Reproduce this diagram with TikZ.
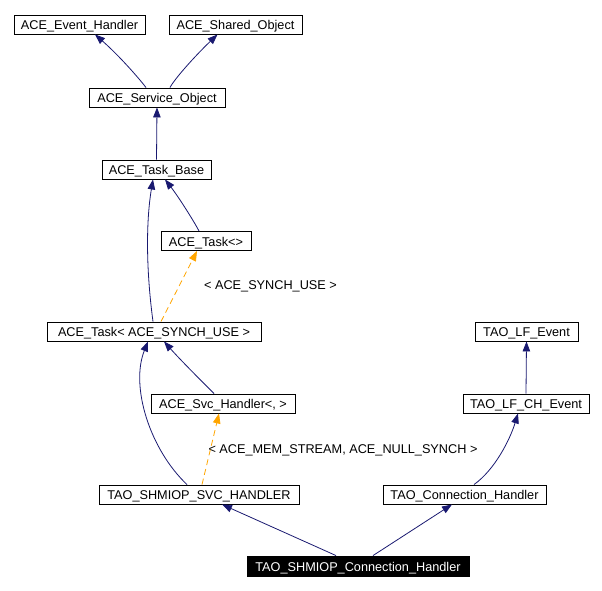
\documentclass[tikz,border=0pt]{standalone}
\usepackage{fontspec}
\setmainfont{Liberation Sans}
\usetikzlibrary{arrows.meta}
\definecolor{navy}{HTML}{191970}
\definecolor{orng}{HTML}{FFA500}
\begin{document}
\begin{tikzpicture}[x=1pt,y=-1pt,
  box/.style={draw=black,line width=0.9pt,fill=white,inner sep=0pt,minimum height=19pt,text height=10.5pt,text depth=0.5pt,font=\fontsize{12.7}{14}\selectfont},
  blk/.style={box,fill=black,text=white,minimum height=20pt},
  inh/.style={draw=navy,line width=0.8pt,-{Triangle[length=10pt,width=7.5pt]}},
  tmpl/.style={draw=orng,line width=0.8pt,dashed,dash pattern=on 6pt off 4pt,-{Triangle[length=10pt,width=7.5pt]}},
  lbl/.style={inner sep=0pt,font=\fontsize{12.7}{14}\selectfont}]
\useasboundingbox (0,0) rectangle (602,590);
\node[box,minimum width=131pt] (eh) at (79.5,24.5) {ACE\_Event\_Handler};
\node[box,minimum width=133pt] (sho) at (235.5,24.5) {ACE\_Shared\_Object};
\node[box,minimum width=136pt] (so) at (157,97.5) {ACE\_Service\_Object};
\node[box,minimum width=109pt] (tb) at (156.5,169.5) {ACE\_Task\_Base};
\node[box,minimum width=90pt] (tk) at (206,241) {ACE\_Task<>};
\node[box,minimum width=214pt] (tks) at (154,331.5) {ACE\_Task< ACE\_SYNCH\_USE >};
\node[box,minimum width=144pt] (svc) at (223,403.5) {ACE\_Svc\_Handler<, >};
\node[box,minimum width=103pt] (lf) at (526.5,331.5) {TAO\_LF\_Event};
\node[box,minimum width=126pt] (lfch) at (526,403.5) {TAO\_LF\_CH\_Event};
\node[box,minimum width=200pt] (svch) at (199,494.5) {TAO\_SHMIOP\_SVC\_HANDLER};
\node[box,minimum width=163pt] (connh) at (464.5,494.5) {TAO\_Connection\_Handler};
\node[blk,minimum width=222pt] (sch) at (358,566) {TAO\_SHMIOP\_Connection\_Handler};
\node[lbl] (l1) at (270.5,286.5) {< ACE\_SYNCH\_USE >};
\node[lbl] (l2) at (343,450.5) {< ACE\_MEM\_STREAM, ACE\_NULL\_SYNCH >};
% edges
\draw[inh] ([xshift=-11pt]so.north) .. controls +(-6,-8) and +(25,22) .. ([xshift=15.5pt]eh.south);
\draw[inh] ([xshift=13pt]so.north) .. controls +(4,-8) and +(-23,22) .. ([xshift=-18pt]sho.south);
\draw[inh] (tb.north) -- (so.south);
\draw[inh] ([xshift=-7pt]tk.north) .. controls +(-4,-8) and +(14,18) .. ([xshift=8.5pt]tb.south);
\draw[inh] ([xshift=-1pt]tks.north) .. controls +(-7,-52) and +(-7,42) .. ([xshift=-3.5pt]tb.south);
\draw[tmpl] ([xshift=7pt]tks.north) -- ([xshift=-9pt]tk.south);
\draw[inh] ([xshift=-9pt]svc.north) .. controls +(-14,-14) and +(16,18) .. ([xshift=10pt]tks.south);
\draw[inh] ([xshift=-12pt]svch.north) .. controls +(-37,-35) and +(-18,45) .. ([xshift=-6pt]tks.south);
\draw[tmpl] ([xshift=3pt]svch.north) -- ([xshift=-4pt]svc.south);
\draw[inh] (lfch.north) -- (lf.south);
\draw[inh] ([xshift=9.5pt]connh.north) .. controls +(21,-15) and +(-8,26) .. ([xshift=-8pt]lfch.south);
\draw[inh] ([xshift=-22pt]sch.north) -- ([xshift=23pt]svch.south);
\draw[inh] ([xshift=15pt]sch.north) -- ([xshift=-12.5pt]connh.south);
\end{tikzpicture}
\end{document}
